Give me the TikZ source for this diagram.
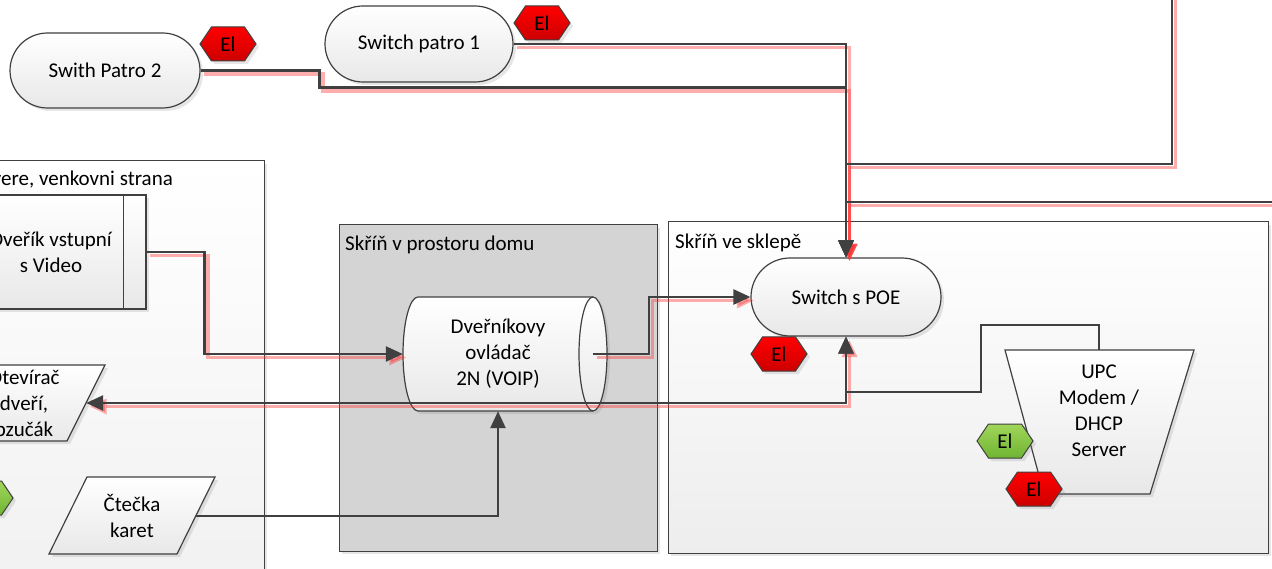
\documentclass[tikz,border=0pt]{standalone}
\usepackage{fontspec}
\setmainfont{Carlito}
\usetikzlibrary{shapes.misc,shapes.geometric,shapes.symbols,arrows.meta,shadows}
\definecolor{ln}{RGB}{64,64,64}
\definecolor{boxgray}{RGB}{212,212,212}
\definecolor{elredtop}{RGB}{255,0,0}
\definecolor{elredbot}{RGB}{205,0,0}
\definecolor{elgreentop}{RGB}{160,214,90}
\definecolor{elgreenbot}{RGB}{112,180,50}
\definecolor{shred}{RGB}{255,50,50}
\begin{document}
\begin{tikzpicture}[x=1pt,y=-1pt,
  every node/.style={font=\fontsize{21}{26}\selectfont, inner sep=0pt},
  shad/.style={drop shadow={shadow xshift=3pt,shadow yshift=-3pt,opacity=0.2}},
  stadium/.style={rounded rectangle, draw=ln, line width=1.2pt, top color=white, bottom color=black!9, shad, align=center},
  hexel/.style={signal, signal to=east and west, signal pointer angle=112, draw=ln, line width=1pt, minimum width=56pt, minimum height=34pt, shad, font=\fontsize{21}{24}\selectfont},
  redel/.style={hexel, top color=elredtop, bottom color=elredbot},
  greenel/.style={hexel, top color=elgreentop, bottom color=elgreenbot},
  cont/.style={draw=ln, line width=1pt, shad},
  shp/.style={draw=ln, line width=1.2pt, top color=white, bottom color=black!9, shad},
  boxtitle/.style={anchor=base west},
  lbl/.style={align=center},
  conn/.style={draw=ln, line width=2.5pt},
  arr/.style={-{Triangle[length=17pt,width=15pt]}},
  arrb/.style={{Triangle[length=17pt,width=15pt]}-{Triangle[length=17pt,width=15pt]}},
  redsh/.style={draw=shred, line width=3.5pt, opacity=0.4},
]
\useasboundingbox (0,0) rectangle (1272,569);
\clip (0,0) rectangle (1272,569);

% containers
\node[cont, top color=white, bottom color=black!7, minimum width=564pt, minimum height=539pt] (leftbox) at (-18,430.5) {};
\node[cont, fill=boxgray, minimum width=318pt, minimum height=326pt] (midbox) at (498,388) {};
\node[cont, top color=white, bottom color=black!7, minimum width=600pt, minimum height=331pt] (rightbox) at (968,387.5) {};
\node[anchor=base east] (lefttitle) at (173,186) {Dvere, venkovni strana};
\node[boxtitle] (midtitle) at (345,251) {Skříň v prostoru domu};
\node[boxtitle] (righttitle) at (675,249) {Skříň ve sklepě};

% stadiums
\node[stadium, minimum width=190pt, minimum height=75pt] (p2) at (105,70.5) {Swith Patro 2};
\node[stadium, minimum width=188pt, minimum height=76pt] (p1) at (419,44) {Switch patro 1};
\node[stadium, minimum width=190pt, minimum height=78pt] (poe) at (846,297) {Switch s POE};

% door unit
\node[shp, minimum width=190pt, minimum height=114pt, align=center] (dv) at (51,252) {Dveřík vstupní\\s Video};
\draw[ln, line width=1pt] ([xshift=-23pt]dv.north east) -- ([xshift=-23pt]dv.south east);
\draw[ln, line width=1pt] ([xshift=23pt]dv.north west) -- ([xshift=23pt]dv.south west);

% parallelograms
\draw[shp] (-19,365) -- (105,365) -- (67,441) -- (-57,441) -- cycle;
\node[lbl, minimum width=124pt] (otv) at (24,403) {Otevírač\\dveří,\\bzučák};
\draw[shp] (87,477) -- (215,477) -- (177,554) -- (49,554) -- cycle;
\node[lbl, minimum width=128pt] (ctk) at (132,516) {Čtečka\\karet};

% cylinder
\draw[shp] (418,297) -- (593,297)
  .. controls (600.7,297) and (607,322.5) .. (607,354)
  .. controls (607,385.5) and (600.7,411) .. (593,411)
  -- (418,411)
  .. controls (409.7,411) and (403,385.5) .. (403,354)
  .. controls (403,322.5) and (409.7,297) .. (418,297) -- cycle;
\draw[ln, line width=1.2pt] (593,297) .. controls (585.3,297) and (579,322.5) .. (579,354)
  .. controls (579,385.5) and (585.3,411) .. (593,411);
\node[lbl, minimum width=190pt, minimum height=114pt] (ctrl) at (498,354) {Dveřníkovy\\ovládač\\2N (VOIP)};

% UPC trapezoid
\draw[shp] (1005,350) -- (1194,350) -- (1150,494) -- (1044,494) -- cycle;
\node[lbl] (upc) at (1099,411) {UPC\\Modem /\\DHCP\\Server};
\coordinate (upctop) at (1099,350);

% El badges
\node[redel] (e1) at (228,44) {El};
\node[redel] (e2) at (542,23) {El};
\node[redel] (e3) at (779,354) {El};
\node[greenel] (e4) at (1005,441) {El};
\node[redel] (e5) at (1034,489) {El};
\node[greenel] (e6) at (-15,498) {El};

% free ends
\coordinate (offtop) at (1172,-10);
\coordinate (offright) at (1290,202);

% red shadows
\begin{scope}[transform canvas={xshift=3.5pt,yshift=-3.5pt}]
\draw[redsh, arr] (p1.east) -| (poe.north);
\draw[redsh, arr] (p2.east) -- ++(119,0) -- ++(0,17) -| (poe.north);
\draw[redsh, arr] (offtop) -- ++(0,174) -| (poe.north);
\draw[redsh, arr] (offright) -| (poe.north);
\draw[redsh, arr] (dv.east) -- ++(58,0) |- (ctrl.west);
\draw[redsh, arr] (ctrl.east) -- ++(56,0) |- (poe.west);
\draw[redsh, arrb] (poe.south) |- (otv.east);
\end{scope}

% connectors
\draw[conn, arr] (p1.east) -| (poe.north);
\draw[conn, arr] (p2.east) -- ++(119,0) -- ++(0,17) -| (poe.north);
\draw[conn, arr] (offtop) -- ++(0,174) -| (poe.north);
\draw[conn, arr] (offright) -| (poe.north);
\draw[conn, arr] (dv.east) -- ++(58,0) |- (ctrl.west);
\draw[conn, arr] (ctrl.east) -- ++(56,0) |- (poe.west);
\draw[conn, arrb] (poe.south) |- (otv.east);
\draw[conn, arr] (upctop) -- ++(0,-25) -- (981,325) -- (981,392) -| (poe.south);
\draw[conn, arr] (ctk.east) -| (ctrl.south);
\end{tikzpicture}
\end{document}
